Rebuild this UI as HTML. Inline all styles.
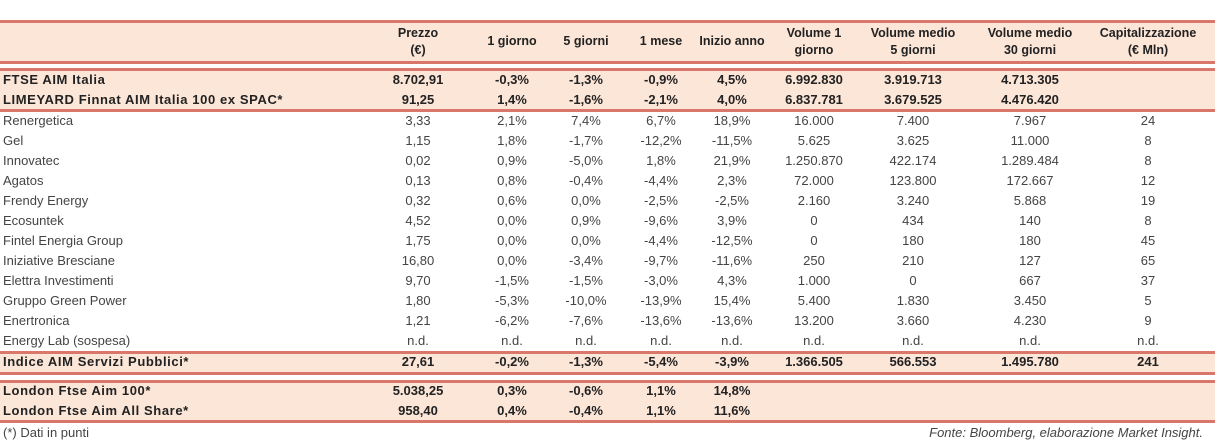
<!DOCTYPE html>
<html><head><meta charset="utf-8">
<style>
body{margin:0;width:1215px;height:443px;background:#fff;font-family:"Liberation Sans","DejaVu Sans",sans-serif;color:#444;position:relative;overflow:hidden}
.band{position:absolute;left:0;width:1215px;background:#fce6d8}
.line{position:absolute;left:0;width:1215px;height:3px;background:#d8776a}
.cell{position:absolute;font-size:13px;white-space:nowrap;line-height:20px;transform:translateX(-50%)}
.lab{position:absolute;left:3px;font-size:13px;line-height:20px;white-space:nowrap}
.lab.b{letter-spacing:0.6px}
.b{font-weight:bold;color:#222}
.hd{position:absolute;font-size:12.5px;font-weight:bold;text-align:center;line-height:17px;transform:translateX(-50%);white-space:nowrap;color:#222}
</style></head><body>
<div class="band" style="top:22px;height:40px"></div>
<div class="band" style="top:70px;height:40px"></div>
<div class="band" style="top:353px;height:20px"></div>
<div class="band" style="top:382px;height:39px"></div>
<div class="line" style="top:20px"></div>
<div class="line" style="top:61px"></div>
<div class="line" style="top:68px"></div>
<div class="line" style="top:109px"></div>
<div class="line" style="top:351px"></div>
<div class="line" style="top:372px"></div>
<div class="line" style="top:380px"></div>
<div class="line" style="top:420px"></div>
<div id="t"></div>
<div class="lab" style="top:423px">(*) Dati in punti</div>
<div style="position:absolute;right:12px;top:423px;font-size:13px;line-height:20px;font-style:italic">Fonte: Bloomberg, elaborazione Market Insight.</div>
<script>
const cols=[418,512,586,661,732,814,913,1030,1148];
const headers=[["Prezzo","(€)"],["1 giorno"],["5 giorni"],["1 mese"],["Inizio anno"],["Volume 1","giorno"],["Volume medio","5 giorni"],["Volume medio","30 giorni"],["Capitalizzazione","(€ Mln)"]];
const rows=[
["FTSE AIM Italia","8.702,91","-0,3%","-1,3%","-0,9%","4,5%","6.992.830","3.919.713","4.713.305",""],
["LIMEYARD Finnat AIM Italia 100 ex SPAC*","91,25","1,4%","-1,6%","-2,1%","4,0%","6.837.781","3.679.525","4.476.420",""],
["Renergetica","3,33","2,1%","7,4%","6,7%","18,9%","16.000","7.400","7.967","24"],
["Gel","1,15","1,8%","-1,7%","-12,2%","-11,5%","5.625","3.625","11.000","8"],
["Innovatec","0,02","0,9%","-5,0%","1,8%","21,9%","1.250.870","422.174","1.289.484","8"],
["Agatos","0,13","0,8%","-0,4%","-4,4%","2,3%","72.000","123.800","172.667","12"],
["Frendy Energy","0,32","0,6%","0,0%","-2,5%","-2,5%","2.160","3.240","5.868","19"],
["Ecosuntek","4,52","0,0%","0,9%","-9,6%","3,9%","0","434","140","8"],
["Fintel Energia Group","1,75","0,0%","0,0%","-4,4%","-12,5%","0","180","180","45"],
["Iniziative Bresciane","16,80","0,0%","-3,4%","-9,7%","-11,6%","250","210","127","65"],
["Elettra Investimenti","9,70","-1,5%","-1,5%","-3,0%","4,3%","1.000","0","667","37"],
["Gruppo Green Power","1,80","-5,3%","-10,0%","-13,9%","15,4%","5.400","1.830","3.450","5"],
["Enertronica","1,21","-6,2%","-7,6%","-13,6%","-13,6%","13.200","3.660","4.230","9"],
["Energy Lab (sospesa)","n.d.","n.d.","n.d.","n.d.","n.d.","n.d.","n.d.","n.d.","n.d."],
["Indice AIM Servizi Pubblici*","27,61","-0,2%","-1,3%","-5,4%","-3,9%","1.366.505","566.553","1.495.780","241"],
["London Ftse Aim 100*","5.038,25","0,3%","-0,6%","1,1%","14,8%","","","",""],
["London Ftse Aim All Share*","958,40","0,4%","-0,4%","1,1%","11,6%","","","",""]];
const tops=[70,90,111,131,151,171,191,211,231,251,271,291,311,331,352,381,401];
const bold=[1,1,0,0,0,0,0,0,0,0,0,0,0,0,1,1,1];
const t=document.getElementById('t');
headers.forEach((h,i)=>{const d=document.createElement('div');d.className='hd';


d.style.left=cols[i]+'px';d.style.top=(h.length==2?25:33)+'px';d.innerHTML=h.join('<br>');t.appendChild(d);});
rows.forEach((r,ri)=>{
const l=document.createElement('div');l.className='lab'+(bold[ri]?' b':'');


l.style.top=tops[ri]+'px';l.textContent=r[0];t.appendChild(l);
for(let c=1;c<r.length;c++){if(!r[c])continue;const d=document.createElement('div');d.className='cell'+(bold[ri]?' b':'');


d.style.left=cols[c-1]+'px';d.style.top=tops[ri]+'px';d.textContent=r[c];t.appendChild(d);}
});
</script>
</body></html>
